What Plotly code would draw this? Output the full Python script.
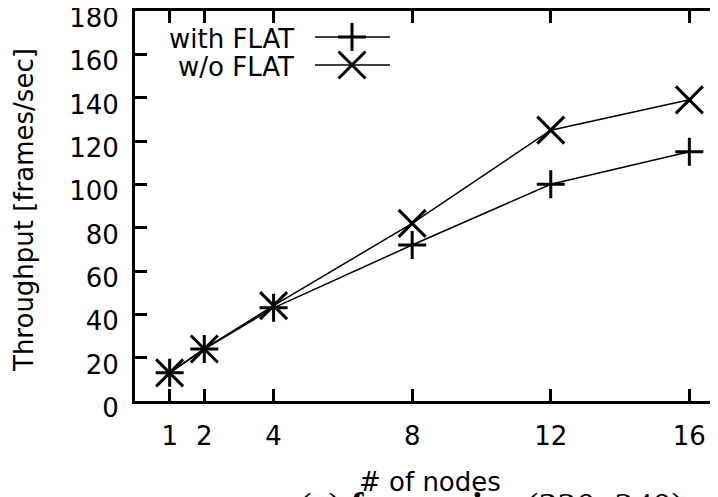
import plotly.graph_objects as go

nodes = [1, 2, 4, 8, 12, 16]
with_flat = [13, 24, 43, 72, 100, 115]
without_flat = [13, 24, 44, 82, 125, 139]
x_ticks = [1, 2, 4, 8, 12, 16]
y_ticks = [0, 20, 40, 60, 80, 100, 120, 140, 160, 180]
series_names = ["with FLAT", "w/o FLAT"]
x_title = "# of nodes"
y_title = "Throughput [frames/sec]"
caption = "(a) <b>frame size</b> (320x240)"

FONT = "DejaVu Sans"
OFF = 8  # page body margin offset
W, H = 718, 497
L, R, T, B = 135 - OFF, 2, 11 - OFF, 497 - (401 - OFF)
x_max = 17.0

fig = go.Figure()

fig.add_trace(go.Scatter(
    x=nodes, y=with_flat, mode="lines+markers", name=series_names[0],
    line=dict(color="black", width=1.5),
    marker=dict(symbol="cross-thin", size=20, color="black", line=dict(color="black", width=3)),
    showlegend=False))
fig.add_trace(go.Scatter(
    x=nodes, y=without_flat, mode="lines+markers", name=series_names[1],
    line=dict(color="black", width=1.5),
    marker=dict(symbol="x-thin", size=27, color="black", line=dict(color="black", width=3)),
    showlegend=False))

# manual gnuplot-style legend (text right, sample on the right) in screen-pixel space
leg_y = [37, 65]
symbols = [("cross-thin", 20), ("x-thin", 27)]
for i, name in enumerate(series_names):
    fig.add_trace(go.Scatter(
        x=[315, 390], y=[leg_y[i]] * 2, xaxis="x3", yaxis="y3",
        mode="lines", showlegend=False, hoverinfo="skip",
        line=dict(color="black", width=1.5)))
    fig.add_trace(go.Scatter(
        x=[352], y=[leg_y[i]], xaxis="x3", yaxis="y3",
        mode="markers", showlegend=False, hoverinfo="skip",
        marker=dict(symbol=symbols[i][0], size=symbols[i][1], color="black",
                    line=dict(color="black", width=3))))
    fig.add_annotation(x=296, y=leg_y[i] + 2, xref="x3", yref="y3",
                       text=name, showarrow=False, xanchor="right",
                       yanchor="middle", font=dict(family=FONT, size=26, color="black"))

fig.add_annotation(x=0.5, y=0, xref="paper", yref="paper", text=x_title,
                   showarrow=False, xanchor="center", yanchor="top", yshift=-64,
                   font=dict(family=FONT, size=26, color="black"))
fig.add_annotation(x=0, y=0.5, xref="paper", yref="paper", text=y_title,
                   showarrow=False, textangle=-90, xanchor="center", yanchor="middle",
                   xshift=-111, yshift=-4,
                   font=dict(family=FONT, size=26, color="black"))
fig.add_annotation(x=(491 - 135) / (724 - 135), y=0, xref="paper", yref="paper",
                   text=caption, showarrow=False, xanchor="center", yanchor="top",
                   yshift=-82,
                   font=dict(family="Liberation Serif", size=38, color="black"))

fig.update_layout(
    width=W, height=H,
    margin=dict(l=L, r=R, t=T, b=B, pad=0, autoexpand=False),
    paper_bgcolor="white", plot_bgcolor="white",
    font=dict(family=FONT, size=26, color="black"),
    xaxis=dict(range=[0, x_max], tickvals=x_ticks, ticktext=[str(v) for v in x_ticks],
               ticks="inside", ticklen=12, tickwidth=3, tickcolor="black",
               showline=True, linewidth=3, linecolor="black", mirror="ticks",
               showgrid=False, zeroline=False, ticklabelstandoff=10,
               automargin=False, ticklabeloverflow="allow",
               tickfont=dict(family=FONT, size=26)),
    yaxis=dict(range=[0, 180], tickvals=y_ticks,
               ticks="inside", ticklen=12, tickwidth=3, tickcolor="black",
               showline=True, linewidth=3, linecolor="black", mirror="ticks",
               showgrid=False, zeroline=False, ticklabelstandoff=8,
               automargin=False, ticklabeloverflow="allow",
               ticklabelshift=7, tickfont=dict(family=FONT, size=26)),
    xaxis3=dict(range=[L + OFF, W - R + OFF], overlaying="x", visible=False, anchor="y3"),
    yaxis3=dict(range=[H - B + OFF, T + OFF], overlaying="y", visible=False, anchor="x3"),
)

fig.write_html("out.html")
